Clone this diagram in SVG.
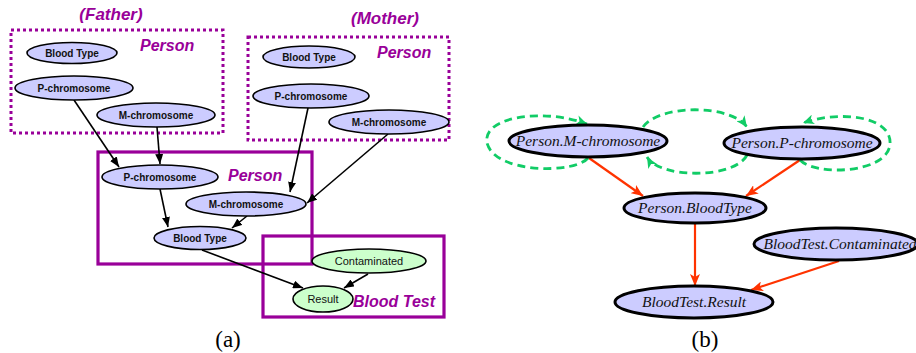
<svg xmlns="http://www.w3.org/2000/svg" width="916" height="353" viewBox="0 0 916 353">
<style>
.bg{fill:#ffffff}
.dot{fill:none;stroke:#990099;stroke-width:3;stroke-dasharray:3 3}
.box{fill:none;stroke:#990099;stroke-width:3.2}
.np{fill:#ccccff;stroke:#000;stroke-width:1.6}
.ng{fill:#ccffcc;stroke:#000;stroke-width:1.6}
.lb{font-family:"Liberation Sans",Arial,sans-serif;font-weight:bold;font-size:10px;text-anchor:middle;fill:#111}
.lr{font-family:"Liberation Sans",Arial,sans-serif;font-size:11px;text-anchor:middle;fill:#111}
.pt{font-family:"Liberation Sans",Arial,sans-serif;font-weight:bold;font-style:italic;font-size:16px;fill:#990099}
.pp{font-family:"Liberation Sans",Arial,sans-serif;font-weight:bold;font-style:italic;font-size:17px;fill:#990099;text-anchor:middle}
.ba{fill:none;stroke:#000;stroke-width:1.6}
.nb{fill:#ccccff;stroke:#000;stroke-width:3}
.tb{font-family:"Liberation Serif","Times New Roman",serif;font-style:italic;font-size:15.5px;text-anchor:middle;fill:#111}
.ra{fill:none;stroke:#ff3300;stroke-width:2.2}
.ga{fill:none;stroke:#11cc66;stroke-width:2.8;stroke-dasharray:8 5}
.cap{font-family:"Liberation Serif","Times New Roman",serif;font-size:23px;text-anchor:middle;fill:#000}
</style>
<defs>
<marker id="ab" markerUnits="userSpaceOnUse" markerWidth="10" markerHeight="8" refX="10" refY="4" orient="auto"><path d="M0,0 L10,4 L0,8 z" fill="#000"/></marker>
<marker id="ar" markerUnits="userSpaceOnUse" markerWidth="12" markerHeight="10" refX="12" refY="5" orient="auto"><path d="M0,0 L12,5 L0,10 L3,5 z" fill="#ff3300"/></marker>
<marker id="ag" markerUnits="userSpaceOnUse" markerWidth="11" markerHeight="10" refX="11" refY="5" orient="auto"><path d="M0,0 L11,5 L0,10 L3,5 z" fill="#11cc66"/></marker>
</defs>
<rect class="bg" x="0" y="0" width="916" height="353"/>

<!-- (a) containers -->
<g id="father">
<text class="pp" x="111" y="20">(Father)</text>
<rect class="dot" x="11" y="30" width="212" height="103"/>
<text class="pt" x="140" y="51">Person</text>
</g>
<g id="mother">
<text class="pp" x="385" y="24">(Mother)</text>
<rect class="dot" x="248" y="37" width="201" height="103"/>
<text class="pt" x="377" y="58">Person</text>
</g>
<g id="child">
<rect class="box" x="98" y="152" width="214" height="112"/>
<text class="pt" x="228" y="181">Person</text>
</g>
<g id="bloodtest">
<rect class="box" x="263" y="236" width="181" height="81"/>
<text class="pt" x="353" y="307">Blood Test</text>
</g>

<!-- (a) connectors -->
<g id="connectors-a">
<path class="ba" d="M74,100 L119,167" marker-end="url(#ab)"/>
<path class="ba" d="M157,127 L160,164" marker-end="url(#ab)"/>
<path class="ba" d="M308,108 L290,192" marker-end="url(#ab)"/>
<path class="ba" d="M388,134 L307,203" marker-end="url(#ab)"/>
<path class="ba" d="M160,189 L168,227" marker-end="url(#ab)"/>
<path class="ba" d="M247,216 L232,228" marker-end="url(#ab)"/>
<path class="ba" d="M202,250 L303,288" marker-end="url(#ab)"/>
<path class="ba" d="M368,274 L344,288" marker-end="url(#ab)"/>
</g>

<!-- (a) nodes -->
<g id="f-blood"><ellipse class="np" cx="72" cy="53" rx="45" ry="10.5"/><text class="lb" x="72" y="56.5">Blood Type</text></g>
<g id="f-pchrom"><ellipse class="np" cx="74" cy="88" rx="59" ry="12"/><text class="lb" x="74" y="91.5">P-chromosome</text></g>
<g id="f-mchrom"><ellipse class="np" cx="156" cy="115" rx="59" ry="12"/><text class="lb" x="156" y="118.5">M-chromosome</text></g>
<g id="m-blood"><ellipse class="np" cx="309" cy="57" rx="46" ry="11"/><text class="lb" x="309" y="60.5">Blood Type</text></g>
<g id="m-pchrom"><ellipse class="np" cx="311" cy="96" rx="58" ry="12"/><text class="lb" x="311" y="99.5">P-chromosome</text></g>
<g id="m-mchrom"><ellipse class="np" cx="389" cy="122" rx="60" ry="12"/><text class="lb" x="389" y="125.5">M-chromosome</text></g>
<g id="c-pchrom"><ellipse class="np" cx="160" cy="177" rx="58" ry="12"/><text class="lb" x="160" y="180.5">P-chromosome</text></g>
<g id="c-mchrom"><ellipse class="np" cx="246" cy="204" rx="60" ry="12"/><text class="lb" x="246" y="207.5">M-chromosome</text></g>
<g id="c-blood"><ellipse class="np" cx="200" cy="238" rx="46" ry="11.5"/><text class="lb" x="200" y="241.5">Blood Type</text></g>
<g id="contaminated"><ellipse class="ng" cx="369" cy="261" rx="57" ry="12"/><text class="lr" x="369" y="265">Contaminated</text></g>
<g id="result"><ellipse class="ng" cx="323" cy="299" rx="30" ry="13"/><text class="lr" x="323" y="303">Result</text></g>

<text class="cap" x="228" y="347">(a)</text>

<!-- (b) connectors -->
<g id="connectors-b">
<path class="ra" d="M589,158 L643,196" marker-end="url(#ar)"/>
<path class="ra" d="M800,160 L746,196" marker-end="url(#ar)"/>
<path class="ra" d="M695,224 L695,286" marker-end="url(#ar)"/>
<path class="ra" d="M839,261 L751,290" marker-end="url(#ar)"/>
<path class="ga" d="M588,158 C575,174 495,174 487,143 C482,116 545,108 587,124" marker-end="url(#ag)"/>
<path class="ga" d="M643,127 C660,104 730,104 747,127" marker-end="url(#ag)"/>
<path class="ga" d="M747,155 C735,179 660,179 647,157" marker-end="url(#ag)"/>
<path class="ga" d="M800,160 C815,176 886,174 890,145 C893,116 840,110 803,123" marker-end="url(#ag)"/>
</g>

<!-- (b) nodes -->
<g id="b-mchrom"><ellipse class="nb" cx="588" cy="141" rx="79" ry="16"/><text class="tb" x="588" y="146">Person.M-chromosome</text></g>
<g id="b-pchrom"><ellipse class="nb" cx="802" cy="143" rx="78" ry="16"/><text class="tb" x="802" y="148">Person.P-chromosome</text></g>
<g id="b-blood"><ellipse class="nb" cx="695" cy="208" rx="71" ry="15"/><text class="tb" x="695" y="213">Person.BloodType</text></g>
<g id="b-contam"><ellipse class="nb" cx="836" cy="244" rx="82" ry="16"/><text class="tb" x="840" y="249">BloodTest.Contaminated</text></g>
<g id="b-result"><ellipse class="nb" cx="694" cy="302" rx="79" ry="16"/><text class="tb" x="694" y="307">BloodTest.Result</text></g>

<text class="cap" x="705" y="347">(b)</text>
</svg>
